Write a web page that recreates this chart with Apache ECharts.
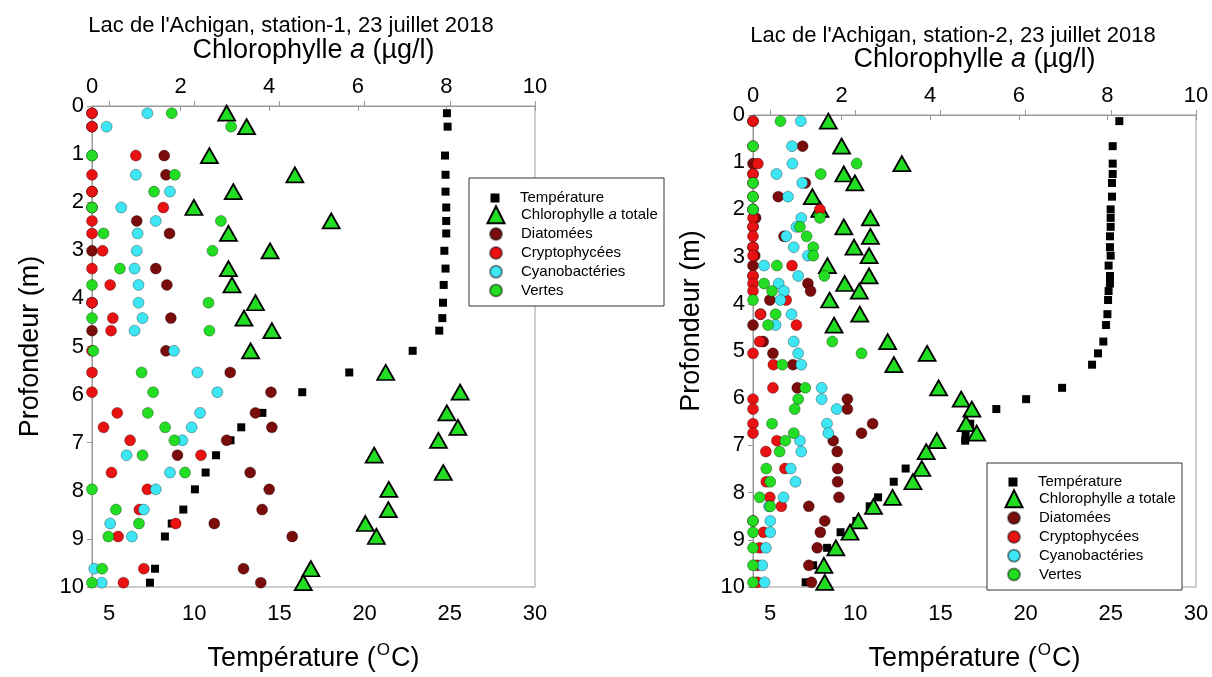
<!DOCTYPE html>
<html>
<head>
<meta charset="utf-8">
<script src="https://cdn.jsdelivr.net/npm/echarts@6/dist/echarts.min.js"></script>
<style>
  html, body { margin: 0; background: #fff; }
  #chart { width: 1212px; height: 677px; }
</style>
</head>
<body>
<div id="chart"></div>
<script>
// station-1 : one row per sampled depth (m)
const depth1 = [0.15, 0.43, 1.03, 1.43, 1.78, 2.11, 2.39, 2.65, 3.01, 3.38, 3.72, 4.09, 4.41, 4.67,
  5.09, 5.54, 5.95, 6.38, 6.68, 6.95, 7.26, 7.62, 7.97, 8.39, 8.68, 8.95, 9.62, 9.91];
const temp1 = [24.83, 24.87, 24.72, 24.75, 24.75, 24.79, 24.79, 24.79, 24.68, 24.75, 24.64, 24.60, 24.56, 24.38,
  22.82, 19.10, 16.34, 14.00, 12.76, 12.13, 11.28, 10.67, 10.04, 9.36, 8.68, 8.28, 7.70, 7.40];
const total1 = [3.04, 3.49, 2.65, 4.58, 3.19, 2.30, 5.40, 3.08, 4.02, 3.08, 3.16, 3.69, 3.43, 4.06,
  3.58, 6.63, 8.31, 8.01, 8.26, 7.82, 6.37, 7.93, 6.70, 6.69, 6.17, 6.42, 4.94, 4.77];
const diatom1 = [0, 0, 1.63, 1.67, 0, 0, 1.01, 1.75, 0, 1.44, 1.69, 0, 1.78, 0,
  1.67, 3.12, 4.04, 3.69, 4.06, 3.04, 1.93, 3.57, 4.00, 3.84, 2.76, 4.52, 3.42, 3.81];
const crypto1 = [0, 0, 0.99, 0, 0, 1.61, 0, 0, 0.24, 0, 0.41, 0, 0.47, 0.43,
  0, 0, 0, 0.57, 0.26, 0.86, 2.46, 0.44, 1.25, 1.07, 1.89, 0.59, 1.17, 0.71];
const cyano1 = [1.25, 0.33, 0, 0.99, 1.76, 0.66, 1.44, 1.03, 1.01, 0.96, 1.05, 1.05, 1.14, 0.96,
  1.85, 2.38, 2.83, 2.44, 2.25, 2.04, 0.78, 1.76, 1.44, 1.17, 0.41, 0.90, 0.05, 0.22];
const vertes1 = [1.80, 3.14, 0, 1.87, 1.40, 0, 2.91, 0.26, 2.72, 0.63, 0, 2.63, 0, 2.65,
  0.03, 1.12, 1.38, 1.26, 1.65, 1.86, 1.14, 2.10, 0, 0.54, 1.06, 0.37, 0.23, 0];

// station-2
const depth2 = [0.13, 0.66, 1.03, 1.25, 1.44, 1.73, 2.00, 2.18, 2.37, 2.57, 2.80, 2.98, 3.19, 3.41, 3.57,
  3.73, 3.92, 4.22, 4.45, 4.80, 5.05, 5.29, 5.78, 6.02, 6.23, 6.54, 6.74, 6.90, 7.13, 7.49,
  7.77, 8.10, 8.29, 8.60, 8.84, 9.17, 9.54, 9.90];
const temp2 = [25.50, 25.11, 25.11, 25.11, 25.07, 25.07, 24.99, 24.99, 24.99, 24.95, 24.95, 24.99, 24.87, 24.95, 24.95,
  24.87, 24.84, 24.80, 24.72, 24.56, 24.25, 23.90, 22.14, 20.03, 18.28, 16.75, 16.48, 16.45, null, 12.96,
  12.26, 11.34, 10.85, 10.07, 9.14, 8.35, 7.53, 7.09];
const total2 = [1.70, 2.00, 3.36, 2.05, 2.30, 1.34, 1.51, 2.65, 2.05, 2.65, 2.28, 2.62, 1.68, 2.62, 2.07,
  2.40, 1.73, 2.41, 1.83, 3.04, 3.93, 3.18, 4.19, 4.70, 4.94, 4.81, 5.05, 4.15, 3.91, 3.81,
  3.61, 3.15, 2.72, 2.38, 2.19, 1.87, 1.60, 1.62];
const diatom2 = [0, 1.12, 0, 0, 1.18, 0.57, 0, 0.06, 0, 0.70, 0, 0.04, 0, 0, 1.24,
  1.30, 0.38, 0.17, 0, 0.23, 0.45, 0.90, 1.00, 2.13, 2.13, 2.70, 2.45, 1.81, 1.90, 1.91,
  1.91, 1.94, 1.26, 1.62, 1.52, 1.45, 1.26, 1.32];
const crypto2 = [0, 0, 0.11, 0, 0, 0, 1.51, 0, 0, 0, 0, 0, 0.88, 0, 0,
  0, 0.75, 0.17, 0.98, 0.15, 0, 0.46, 0.45, 0, 0, 0, 0, 0.54, 0.29, 0.72,
  0.30, 0.38, 0.64, 0, 0.24, 0.15, 0.10, 0.10];
const cyano2 = [1.08, 0.88, 0.89, 0.53, 1.11, 0.79, 0, 1.09, 0.98, 0.75, 0.92, 1.24, 0.25, 1.02, 0.58,
  0.70, 0.62, 0.87, 0.51, 0.92, 1.02, 1.09, 1.55, 1.55, 1.89, 1.67, 1.70, 1.06, 1.09, 0.85,
  0.96, 0.69, 0.36, 0.39, 0.39, 0.29, 0.21, 0.26];
const vertes2 = [0.62, 0, 2.34, 1.53, 0, 0, 0, 1.51, 1.06, 1.21, 1.36, 1.36, 0.54, 1.61, 0.25,
  0.43, 0, 0.51, 0.34, 1.79, 2.45, 0.66, 1.18, 1.02, 0.94, 0.43, 0.92, 0.73, 0.60, 0.30,
  0.39, 0.15, 0.39, 0, 0, 0, 0, 0];

const tempTicks = [5, 10, 15, 20, 25, 30];
const titles = ["Lac de l'Achigan, station-1, 23 juillet 2018", "Lac de l'Achigan, station-2, 23 juillet 2018"];
const names = ['Température', 'Chlorophylle a totale', 'Diatomées', 'Cryptophycées', 'Cyanobactéries', 'Vertes'];

const FONT = 'Liberation Sans';
const GREEN = '#22dd22';

const points = (xs, ys) => ys.map((y, i) => [xs[i], y]).filter(p => p[0] != null);

const circle = (name, color, p, vals, depth) => ({
  name, type: 'scatter', xAxisIndex: p * 2 + 1, yAxisIndex: p,
  symbol: 'circle', symbolSize: 11,
  itemStyle: { color, borderColor: 'rgba(0,0,0,0.45)', borderWidth: 0.7, opacity: 1 },
  data: points(vals, depth)
});

function panelSeries(p, depth, temp, total, dia, cry, cya, ver) {
  return [
    { name: names[0], type: 'scatter', xAxisIndex: p * 2, yAxisIndex: p,
      symbol: 'rect', symbolSize: 8, itemStyle: { color: '#000', opacity: 1 },
      data: points(temp, depth) },
    { name: names[1], type: 'scatter', xAxisIndex: p * 2 + 1, yAxisIndex: p,
      symbol: 'triangle', symbolSize: [17, 15],
      itemStyle: { color: GREEN, borderColor: '#000', borderWidth: 1.8, opacity: 1 },
      data: points(total, depth) },
    circle(names[2], '#7a0c0c', p, dia, depth),
    circle(names[3], '#e81212', p, cry, depth),
    circle(names[4], '#3ee6f4', p, cya, depth),
    circle(names[5], GREEN, p, ver, depth)
  ];
}

const lineStyle = { color: '#999', width: 1 };
const labelStyle = { fontFamily: FONT, fontSize: 22, color: '#000' };
const nameStyle = { fontFamily: FONT, fontSize: 27, color: '#000' };

function panelXAxes(p) {
  return [
    { gridIndex: p, type: 'value', position: 'bottom', min: 4, max: 30,
      axisLine: { show: true, lineStyle },
      axisTick: { show: true, inside: true, length: 5, lineStyle, customValues: tempTicks },
      axisLabel: { ...labelStyle, margin: 16, customValues: tempTicks },
      splitLine: { show: false },
      name: 'Température ({s|O}C)', nameLocation: 'middle', nameGap: 55,
      nameTextStyle: { ...nameStyle, rich: { s: { fontFamily: FONT, fontSize: 17, color: '#000', padding: [0, 1, 16, 1] } } } },
    { gridIndex: p, type: 'value', position: 'top', min: 0, max: 10, interval: 2,
      axisLine: { show: true, lineStyle },
      axisTick: { show: true, inside: true, length: 5, lineStyle },
      axisLabel: { ...labelStyle, margin: 8 },
      splitLine: { show: false },
      name: 'Chlorophylle {i|a} (µg/l)', nameLocation: 'middle', nameGap: 42,
      nameTextStyle: { ...nameStyle, rich: { i: { fontFamily: FONT, fontSize: 27, color: '#000', fontStyle: 'italic' } } } }
  ];
}

function panelYAxis(p, shift) {
  return { gridIndex: p, type: 'value', inverse: true, min: 0, max: 10, interval: 1,
    axisLine: { show: true, lineStyle },
    axisTick: { show: true, length: 5, lineStyle },
    axisLabel: { ...labelStyle, margin: 8 },
    splitLine: { show: false },
    name: 'Profondeur (m)', nameLocation: 'middle', nameGap: 48,
    nameTextStyle: { ...nameStyle, padding: [0, 0, 0, shift] } };
}

// one legend per entry so every marker keeps its own size; cx = marker centre, text starts at cx + 25
const legendSizes = [9, 17, 12, 12, 12, 12];
function panelLegends(cx, y) {
  return names.map((n, i) => {
    const s = legendSizes[i];
    return {
      data: [n], left: cx - s / 2, top: y + i * 18.8 - s / 2,
      itemWidth: s, itemHeight: s, padding: 0, selectedMode: false,
      formatter: n === names[1] ? 'Chlorophylle {i|a} totale' : n,
      textStyle: { fontFamily: FONT, fontSize: 15, color: '#000', padding: [0, 0, 0, 20 - s / 2],
        rich: { i: { fontFamily: FONT, fontSize: 15, color: '#000', fontStyle: 'italic' } } }
    };
  });
}

const legendBox = (x, y, w, h) => ({
  type: 'rect', z: 3, shape: { x, y, width: w, height: h },
  style: { fill: '#fff', stroke: '#333', lineWidth: 1 }
});

const chart = echarts.init(document.getElementById('chart'));
chart.setOption({
  animation: false,
  backgroundColor: '#fff',
  textStyle: { fontFamily: FONT },
  title: [
    { text: titles[0], left: 286, top: 10, textAlign: 'center',
      textStyle: { fontFamily: FONT, fontSize: 22, fontWeight: 'normal', color: '#000' } },
    { text: titles[1], left: 948, top: 20, textAlign: 'center',
      textStyle: { fontFamily: FONT, fontSize: 22, fontWeight: 'normal', color: '#000' } }
  ],
  grid: [
    { left: 92, top: 106, width: 443, height: 481, show: true, borderColor: '#999', borderWidth: 1 },
    { left: 753, top: 115, width: 443, height: 481, show: true, borderColor: '#999', borderWidth: 1 }
  ],
  xAxis: [...panelXAxes(0), ...panelXAxes(1)],
  yAxis: [panelYAxis(0, 0), panelYAxis(1, 60)],
  legend: [...panelLegends(495, 195), ...panelLegends(1013, 479)],
  graphic: [legendBox(469, 178, 195, 128), legendBox(987, 463, 195, 127)],
  series: [
    ...panelSeries(0, depth1, temp1, total1, diatom1, crypto1, cyano1, vertes1),
    ...panelSeries(1, depth2, temp2, total2, diatom2, crypto2, cyano2, vertes2)
  ]
});
</script>
</body>
</html>
